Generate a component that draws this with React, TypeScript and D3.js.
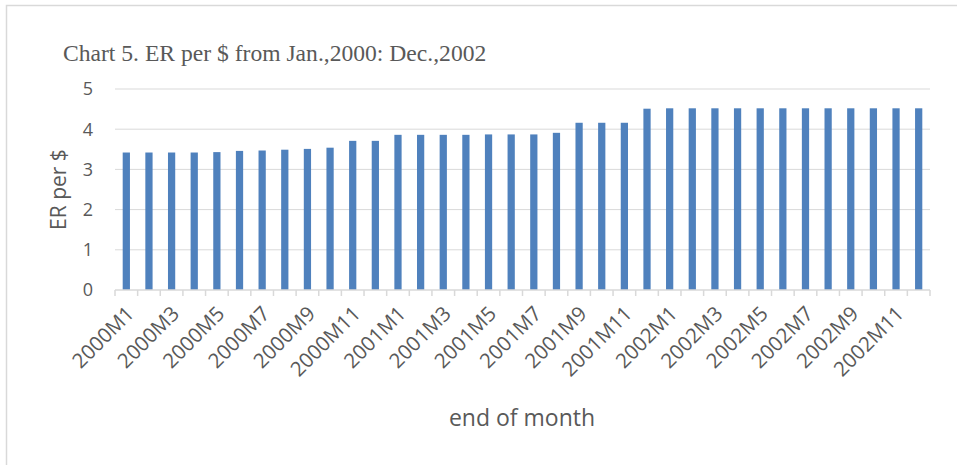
import { useEffect, useRef } from 'react';
import * as d3 from 'd3';

const months: string[] = [];
['2000', '2001', '2002'].forEach(y => {
  for (let m = 1; m <= 12; m++) months.push(`${y}M${m}`);
});

const erValues = [
  3.42, 3.42, 3.42, 3.42, 3.43, 3.46, 3.47, 3.49, 3.51, 3.54, 3.71, 3.71,
  3.86, 3.86, 3.86, 3.86, 3.87, 3.87, 3.87, 3.91, 4.16, 4.16, 4.16, 4.51,
  4.52, 4.52, 4.52, 4.52, 4.52, 4.52, 4.52, 4.52, 4.52, 4.52, 4.52, 4.52,
];

const yTicks = [0, 1, 2, 3, 4, 5];

const textFont = '"Open Sans", sans-serif';
const textColor = '#595959';

export default function App() {
  const ref = useRef<SVGSVGElement | null>(null);

  useEffect(() => {
    if (!ref.current) return;
    const svg = d3.select(ref.current);
    svg.selectAll('*').remove();

    const width = 957;
    const height = 465;
    const margin = { top: 89, right: 27, bottom: 175, left: 115 };
    const innerWidth = width - margin.left - margin.right;
    const innerHeight = height - margin.top - margin.bottom;

    svg.attr('width', width).attr('height', height);

    // outer chart border (cropped on right/bottom)
    svg.append('rect')
      .attr('x', 6.5)
      .attr('y', 5.5)
      .attr('width', width + 20)
      .attr('height', height + 20)
      .attr('fill', 'white')
      .attr('stroke', '#d9d9d9')
      .attr('stroke-width', 1.5);

    svg.append('text')
      .attr('x', 63)
      .attr('y', 61)
      .attr('font-family', '"Liberation Serif", "Times New Roman", serif')
      .attr('font-size', 23.6)
      .attr('fill', textColor)
      .text('Chart 5. ER per $ from Jan.,2000: Dec.,2002');

    const x = d3.scaleBand<string>()
      .domain(months)
      .range([0, innerWidth])
      .paddingInner(0.68)
      .paddingOuter(0.34);

    const y = d3.scaleLinear().domain([0, 5]).range([innerHeight, 0]);

    const g = svg.append('g').attr('transform', `translate(${margin.left},${margin.top})`);

    g.selectAll('line.grid')
      .data(yTicks.slice(1))
      .enter()
      .append('line')
      .attr('class', 'grid')
      .attr('x1', 0)
      .attr('x2', innerWidth)
      .attr('y1', d => y(d))
      .attr('y2', d => y(d))
      .attr('stroke', '#d9d9d9')
      .attr('stroke-width', 1);

    g.selectAll('text.ytick')
      .data(yTicks)
      .enter()
      .append('text')
      .attr('class', 'ytick')
      .attr('x', -22)
      .attr('y', d => y(d))
      .attr('dy', '0.36em')
      .attr('text-anchor', 'end')
      .attr('font-family', textFont)
      .attr('font-size', 18)
      .attr('fill', textColor)
      .text(d => d);

    g.selectAll('rect.bar')
      .data(erValues)
      .enter()
      .append('rect')
      .attr('class', 'bar')
      .attr('x', (_, i) => x(months[i])!)
      .attr('y', d => y(d))
      .attr('width', x.bandwidth())
      .attr('height', d => innerHeight - y(d))
      .attr('fill', '#4f81bd');

    // x axis line and ticks at band boundaries
    g.append('line')
      .attr('x1', 0)
      .attr('x2', innerWidth)
      .attr('y1', innerHeight)
      .attr('y2', innerHeight)
      .attr('stroke', '#d9d9d9')
      .attr('stroke-width', 1.5);

    const step = x.step();
    const boundaries = d3.range(months.length + 1).map(i => i * step);
    g.selectAll('line.xtick')
      .data(boundaries)
      .enter()
      .append('line')
      .attr('class', 'xtick')
      .attr('x1', d => d)
      .attr('x2', d => d)
      .attr('y1', innerHeight)
      .attr('y2', innerHeight + 6)
      .attr('stroke', '#d9d9d9')
      .attr('stroke-width', 1.5);

    g.selectAll('text.xlabel')
      .data(months.filter((_, i) => i % 2 === 0))
      .enter()
      .append('text')
      .attr('class', 'xlabel')
      .attr('transform', d => `translate(${x(d)! + x.bandwidth() / 2 + 9},${innerHeight + 25}) rotate(-45)`)
      .attr('text-anchor', 'end')
      .attr('font-family', textFont)
      .attr('font-size', 20.5)
      .attr('fill', textColor)
      .text(d => d);

    svg.append('text')
      .attr('transform', `translate(66,${margin.top + innerHeight / 2}) rotate(-90)`)
      .attr('text-anchor', 'middle')
      .attr('font-family', textFont)
      .attr('font-size', 21)
      .attr('fill', textColor)
      .text('ER per $');

    svg.append('text')
      .attr('x', 522)
      .attr('y', 426)
      .attr('text-anchor', 'middle')
      .attr('font-family', textFont)
      .attr('font-size', 23)
      .attr('fill', textColor)
      .text('end of month');
  }, []);

  return (
    <div style={{ position: 'absolute', left: 0, top: 0 }}>
      <svg ref={ref}></svg>
    </div>
  );
}
